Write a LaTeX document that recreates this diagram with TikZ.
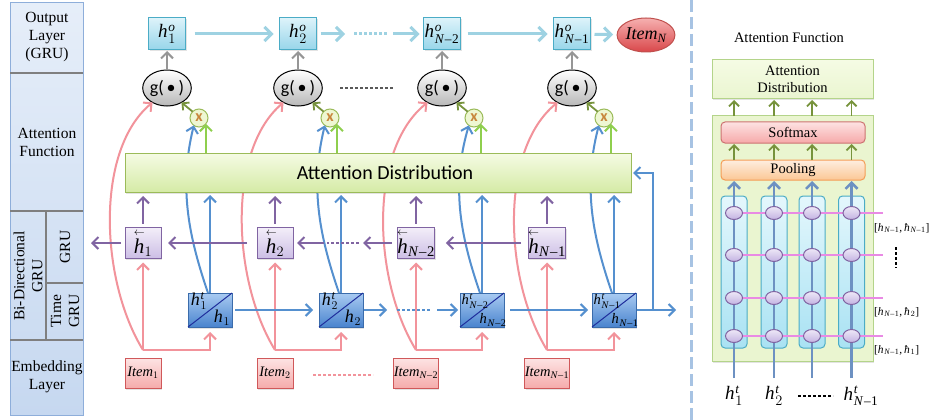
\documentclass[tikz,border=0pt]{standalone}
\usepackage{amsmath}
\usepackage{fontspec}
\setmainfont{Liberation Serif}
\newfontfamily\calfont{Carlito}
\usetikzlibrary{arrows.meta,shapes.geometric,shadows}

% line colours
\definecolor{pinkln}{HTML}{F2939B}
\definecolor{blueln}{HTML}{5590CF}
\definecolor{purpln}{HTML}{8064A2}
\definecolor{grayln}{HTML}{969696}
\definecolor{outln}{HTML}{9ED2E2}
\definecolor{grnln}{HTML}{8FCF4E}
\definecolor{oliveln}{HTML}{77933C}
\definecolor{magln}{HTML}{E98AE4}
\definecolor{vertln}{HTML}{6D91C2}
\definecolor{sepblue}{HTML}{A7C3E3}
\definecolor{diagln}{HTML}{1F2E9C}
% fills and borders
\definecolor{colA}{HTML}{E6EEF9}
\definecolor{colB}{HTML}{C6D8F0}
\definecolor{colD}{HTML}{8EAEDA}
\definecolor{divgray}{HTML}{7F7F7F}
\definecolor{cyanA}{HTML}{DDF3FA}
\definecolor{cyanB}{HTML}{97D5EA}
\definecolor{cyanD}{HTML}{4BACC6}
\definecolor{redA}{HTML}{F6B0B0}
\definecolor{redB}{HTML}{D9474A}
\definecolor{redD}{HTML}{C0504D}
\definecolor{greenA}{HTML}{F5FBE4}
\definecolor{greenB}{HTML}{D5EBA6}
\definecolor{greenD}{HTML}{9BBB59}
\definecolor{lgreen}{HTML}{EAF5D0}
\definecolor{lgreenD}{HTML}{B4D48A}
\definecolor{purpA}{HTML}{F3EEF9}
\definecolor{purpB}{HTML}{CCBEE5}
\definecolor{blueA}{HTML}{A9CBF2}
\definecolor{blueB}{HTML}{4A84CE}
\definecolor{blueD}{HTML}{3B6CAB}
\definecolor{itemA}{HTML}{FDE4E4}
\definecolor{itemB}{HTML}{F5ABAB}
\definecolor{itemD}{HTML}{D0585A}
\definecolor{xfill}{HTML}{EEF7D2}
\definecolor{xorange}{HTML}{C8863C}
\definecolor{orA}{HTML}{FEEEE0}
\definecolor{orB}{HTML}{FBC795}
\definecolor{orD}{HTML}{F59D56}
\definecolor{sfA}{HTML}{FDE2E2}
\definecolor{sfB}{HTML}{F6A9A9}
\definecolor{cyA}{HTML}{E4F7FC}
\definecolor{cyB}{HTML}{A9E2F3}
\definecolor{elA}{HTML}{EEE8F7}
\definecolor{elB}{HTML}{C3B3E2}

\newcommand\ih{\textit{h}\kern0.8pt}
\newcommand\Nm[1]{\text{\textit{N}\kern0.04em–\kern0.04em#1}}
% h with a small left arrow on top
\newcommand\lh{\overset{\scriptscriptstyle\leftarrow}{\textit{h}}}
% pair label [h_{N-1}, hbar_k]
\newcommand\pairlab[1]{[\ih$_{\Nm{1}}$,\,\textit{ħ}\kern0.8pt$_{#1}$]}

\begin{document}
\begin{tikzpicture}[x=1pt,y=-1pt,
  every node/.style={inner sep=0pt,outer sep=0pt},
  chev/.style={-{Straight Barb[length=6pt,width=12pt]}},
  thickln/.style={line width=2pt},
  pinkarr/.style={draw=pinkln,thickln,chev},
  bluearr/.style={draw=blueln,thickln,chev},
  purparr/.style={draw=purpln,thickln,chev},
  grayarr/.style={draw=grayln,thickln,chev},
  greenarr/.style={draw=grnln,thickln,chev},
  olivearr/.style={draw=oliveln,line width=1.8pt,-{Straight Barb[length=5pt,width=10pt]}},
  outarr/.style={draw=outln,line width=3pt,-{Straight Barb[length=7pt,width=14pt]}},
  dotline/.style={line width=2.5pt,dash pattern=on 3pt off 2pt},
  lowshadow/.style={drop shadow={opacity=0.22,shadow xshift=1.2pt,shadow yshift=-1.5pt}},
  outbox/.style={rectangle,draw=cyanD,line width=1pt,top color=cyanA,bottom color=cyanB,
    minimum width=37pt,minimum height=32pt,lowshadow,font=\fontsize{19}{20}\selectfont},
  gnode/.style={ellipse,draw=black,line width=1pt,top color=white,bottom color=black!28,
    minimum width=45pt,minimum height=36pt,font=\calfont\fontsize{18}{19}\selectfont},
  xnode/.style={circle,draw=greenD,line width=1pt,fill=xfill,minimum size=18pt,
    font=\calfont\bfseries\fontsize{16}{16}\selectfont,text=xorange},
  hbbox/.style={rectangle,draw=purpln,line width=1pt,top color=purpA,bottom color=purpB,
    minimum width=36pt,minimum height=31pt,lowshadow,font=\fontsize{21}{22}\selectfont},
  htbox/.style={rectangle,draw=blueD,line width=1pt,top color=blueA,bottom color=blueB,
    minimum width=44pt,minimum height=34pt,lowshadow},
  itembox/.style={rectangle,draw=itemD,line width=1pt,top color=itemA,bottom color=itemB,
    minimum height=30pt,lowshadow,font=\fontsize{14.5}{15}\selectfont},
  sidelab/.style={align=center,font=\fontsize{15.5}{18}\selectfont},
  rfont/.style={font=\fontsize{14.5}{16.5}\selectfont},
  lbfont/.style={font=\fontsize{11.5}{13}\selectfont},
  htbig/.style={font=\fontsize{18}{19}\selectfont},
  htsmall/.style={font=\fontsize{14.5}{15}\selectfont},
]
\useasboundingbox (0,0) rectangle (930,420);
\fill[white] (0,0) rectangle (930,420);

% ---------------- layer labels on the left ----------------
\shade[top color=colA,bottom color=colB] (10,3) rectangle (83,415);
\draw[colD,line width=1pt] (10,3) rectangle (83,415);
\draw[divgray,line width=2pt] (10,73) -- (83,73) (10,211) -- (83,211) (10,340) -- (83,340)
  (46,211) -- (46,340) (46,283) -- (83,283);
\node[sidelab] (lOut) at (47,37) {Output\\Layer\\(GRU)};
\node[sidelab] (lAtt) at (47,142) {Attention\\Function};
\node[sidelab,rotate=90] (lBi) at (28,276) {Bi-Directional\\GRU};
\node[sidelab,rotate=90] (lGru) at (65,247) {GRU};
\node[sidelab,rotate=90] (lTime) at (65,311) {Time\\GRU};
\node[sidelab] (lEmb) at (47,377) {Embedding\\Layer};

% ---------------- separator ----------------
\coordinate (sepT) at (691,0);
\coordinate (sepB) at (691,420);
\draw[sepblue,line width=3pt,dash pattern=on 12pt off 5pt] (sepT) -- (sepB);

% ---------------- main network: nodes ----------------
\foreach \i/\gx/\bx/\tx/\iw/\s in {1/167/143/210/36/1, 2/298/275/341/36/2,
    3/442/416/482/43/{\Nm{2}}, 4/572/547/614/43/{\Nm{1}}}{
  \node[outbox] (ho\i) at (\gx,34) {\ih$^{\textit{o}}_{\s}$};
  \node[gnode] (g\i) at (\gx,88) {g(\,\textbullet\,)};
  \node[xnode] (x\i) at ({\gx+32},118) {x};
  \node[htbox] (ht\i) at (\tx,310) {};
  \node[itembox,minimum width=\iw pt] (it\i) at (\bx,373) {\textit{Item}$_{\s}$};
  \coordinate (c\i) at (\bx,350);
}
\node[ellipse,draw=redD,line width=1pt,top color=redA,bottom color=redB,minimum width=46pt,
  minimum height=34pt,font=\fontsize{18}{19}\selectfont] (itN) at (646,35) {\textit{Item}$_{\textit{N}}$};

% curves that run behind the attention box
\foreach \i/\bx/\tx in {1/143/210, 2/275/341, 3/416/482, 4/547/614}{
  \draw[pinkarr] (c\i) .. controls ({\bx-43},280) and ({\bx-48},150) .. (g\i.225);
  \draw[bluearr] ([xshift=-2pt]ht\i.north) .. controls ({\tx-20},240) and ({\tx-32},190) .. (x\i.235);
}

% attention distribution box
\node[rectangle,draw=greenD,line width=1pt,top color=greenA,bottom color=greenB,
  minimum width=506pt,minimum height=39pt,lowshadow] (att) at (378,172.5) {};
\node[font=\calfont\fontsize{20}{22}\selectfont] (attlbl) at (385,173) {Attention Distribution};

% backward GRU boxes
\foreach \i/\bx/\s in {1/143/1, 2/275/2, 3/416/{\Nm{2}}, 4/547/{\Nm{1}}}{
  \node[hbbox] (hb\i) at (\bx,243) {$\lh_{\s}$};
}

% time GRU boxes: split by a diagonal
\foreach \i in {1,2,3,4}{
  \draw[diagln,line width=1pt] (ht\i.south west) -- (ht\i.north east);
}
\node[htbig] (htu1) at (199,301) {\ih$^{\textit{t}}_{1}$};
\node[htbig] (htl1) at (222,318) {\ih$_{1}$};
\node[htbig] (htu2) at (330,301) {\ih$^{\textit{t}}_{2}$};
\node[htbig] (htl2) at (353,318) {\ih$_{2}$};
\node[htsmall] (htu3) at (475,301) {\ih$^{\textit{t}}_{\Nm{2}}$};
\node[htsmall] (htl3) at (493,320) {\ih$_{\Nm{2}}$};
\node[htsmall] (htu4) at (607,301) {\ih$^{\textit{t}}_{\Nm{1}}$};
\node[htsmall] (htl4) at (625,320) {\ih$_{\Nm{1}}$};

% ---------------- main network: connectors ----------------
\foreach \i in {1,2,3,4}{
  \draw[grayarr,shorten >=1pt] (g\i) -- (ho\i);
  \draw[olivearr] (x\i.135) -- (g\i.-45);
  \draw[greenarr] (x\i.-40 |- att.north) -- (x\i.-40);
  \draw[bluearr,shorten >=3pt] (ht\i.north) -- (ht\i.north |- att.south);
  \draw[purparr,shorten <=4pt,shorten >=4pt] (hb\i) -- (hb\i.north |- att.south);
  \draw[pinkarr,shorten >=4pt] (c\i) -- (hb\i);
  \draw[pinkarr,shorten >=5pt] (c\i) -| (ht\i.south);
}

% output GRU chain
\coordinate (o1) at (345,34); \coordinate (o2) at (354,34);
\coordinate (o3) at (387,34); \coordinate (o4) at (393,34);
\draw[outarr,shorten <=9pt,shorten >=6pt] (ho1) -- (ho2);
\draw[outarr,shorten <=4pt] (ho2) -- (o1);
\draw[outln,line width=3pt,dash pattern=on 3pt off 2pt] (o2) -- (o3);
\draw[outarr,shorten >=4pt] (o4) -- (ho3);
\draw[outarr,shorten <=7pt,shorten >=6pt] (ho3) -- (ho4);
\draw[outarr,shorten <=4pt,shorten >=4pt] (ho4) -- (itN);
\coordinate (gd1) at (340,88); \coordinate (gd2) at (393,88);
\draw[black!65,line width=2pt,dash pattern=on 3pt off 2pt] (gd1) -- (gd2);

% backward GRU chain
\coordinate (pd1) at (363,243); \coordinate (pd2) at (359,243);
\coordinate (pd3) at (327,243); \coordinate (pd4) at (324,243);
\coordinate (pout) at (91,243);
\draw[purparr,shorten <=7pt,shorten >=11pt] (hb4) -- (hb3);
\draw[purparr,shorten <=5pt] (hb3) -- (pd1);
\draw[purpln,dotline] (pd2) -- (pd3);
\draw[purparr,shorten >=4pt] (pd4) -- (hb2);
\draw[purparr,shorten <=10pt,shorten >=7pt] (hb2) -- (hb1);
\draw[purparr,shorten <=4pt] (hb1) -- (pout);

% time GRU chain
\coordinate (bd1) at (387,310); \coordinate (bd2) at (397,310);
\coordinate (bd3) at (430,310); \coordinate (bd4) at (437,310);
\coordinate (tout) at (676,310);
\coordinate (bv1) at (653,310); \coordinate (bv2) at (653,173);
\draw[bluearr,shorten <=3pt,shorten >=6pt] (ht1) -- (ht2);
\draw[bluearr,shorten <=1pt] (ht2) -- (bd1);
\draw[blueln,dotline] (bd2) -- (bd3);
\draw[bluearr,shorten >=2pt] (bd4) -- (ht3);
\draw[bluearr,shorten <=6pt,shorten >=4pt] (ht3) -- (ht4);
\draw[bluearr,shorten <=1pt] (ht4) -- (tout);
\draw[bluearr,shorten >=2pt] (bv1) -- (bv2) -- (bv2 -| att.east);

% items
\coordinate (pk1) at (313,375); \coordinate (pk2) at (373,375);
\draw[pinkln,dotline] (pk1) -- (pk2);

% ---------------- attention function detail ----------------
\node[rfont] (rtitle) at (789,38) {Attention Function};
\node[rectangle,draw=lgreenD,line width=1pt,top color=greenA,bottom color=lgreen,minimum width=161pt,
  minimum height=39pt,lowshadow,rfont,align=center] (rad) at (792.5,79.5) {Attention\\Distribution};
\node[rectangle,draw=lgreenD,line width=1pt,fill=lgreen,minimum width=161pt,minimum height=245pt,
  lowshadow] (rbig) at (792.5,238.5) {};
\node[rectangle,rounded corners=4pt,draw=redD!80,line width=1pt,top color=sfA,bottom color=sfB,
  minimum width=144pt,minimum height=21pt,rfont] (soft) at (793,132.5) {Softmax};
\node[rectangle,rounded corners=4pt,draw=orD,line width=1pt,top color=orA,bottom color=orB,
  minimum width=144pt,minimum height=20pt,rfont] (pool) at (793,170) {Pooling};

\foreach \k/\cx in {1/734,2/774,3/812,4/851.5}{
  \node[rectangle,rounded corners=4pt,draw=cyanD,line width=1pt,top color=cyA,bottom color=cyB,
    minimum width=26pt,minimum height=152pt] (col\k) at (\cx,272) {};
  \coordinate (vb\k) at (\cx,378);
  \draw[draw=vertln,line width=2.5pt,-{Straight Barb[length=6pt,width=12pt]},shorten >=1pt]
    (vb\k) -- (vb\k |- pool.south);
  \draw[olivearr,shorten >=1pt] (rbig.north -| vb\k) -- (rad.south -| vb\k);
  \draw[olivearr,shorten >=1pt] (pool.north -| vb\k) -- (soft.south -| vb\k);
}
\foreach \r/\ry in {1/213,2/255,3/298,4/336}{
  \coordinate (pe\r) at (883,\ry);
  \draw[magln,line width=2pt] (734,\ry) coordinate (ps\r) -- (pe\r);
  \foreach \k/\cx in {1/734,2/774,3/812,4/851.5}{
    \node[ellipse,draw=purpln,line width=1pt,top color=elA,bottom color=elB,
      minimum width=17pt,minimum height=13pt] (e\k\r) at (\cx,\ry) {};
  }
}
\node[anchor=west,lbfont] (lb1) at (874,228) {\pairlab{\Nm{1}}};
\node[anchor=west,lbfont] (lb2) at (874,312) {\pairlab{2}};
\node[anchor=west,lbfont] (lb3) at (874,350) {\pairlab{1}};
\coordinate (vd1) at (896,247); \coordinate (vd2) at (896,268);
\draw[black,dotline] (vd1) -- (vd2);

\node[font=\fontsize{19}{20}\selectfont] (bl1) at (734,396) {\ih$^{\textit{t}}_{1}$};
\node[font=\fontsize{19}{20}\selectfont] (bl2) at (774,396) {\ih$^{\textit{t}}_{2}$};
\node[font=\fontsize{19}{20}\selectfont] (bl4) at (861,396) {\ih$^{\textit{t}}_{\Nm{1}}$};
\coordinate (bdl1) at (798,396); \coordinate (bdl2) at (833,396);
\draw[black,dotline] (bdl1) -- (bdl2);
\end{tikzpicture}
\end{document}
